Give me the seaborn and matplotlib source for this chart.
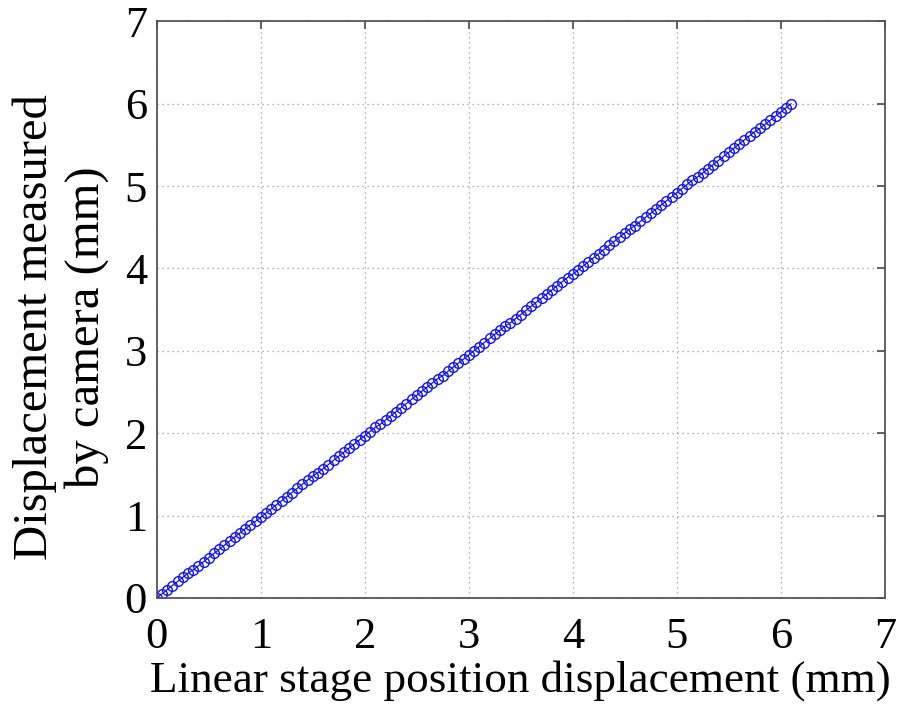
import matplotlib
matplotlib.use("Agg")
import matplotlib.pyplot as plt
import seaborn as sns
import pandas as pd

stage_mm = [0.00, 0.05, 0.10, 0.15, 0.20, 0.25, 0.30, 0.35, 0.40, 0.45,
            0.50, 0.55, 0.60, 0.65, 0.70, 0.75, 0.80, 0.85, 0.90, 0.95,
            1.00, 1.05, 1.10, 1.15, 1.20, 1.25, 1.30, 1.35, 1.40, 1.45,
            1.50, 1.55, 1.60, 1.65, 1.70, 1.75, 1.80, 1.85, 1.90, 1.95,
            2.00, 2.05, 2.10, 2.15, 2.20, 2.25, 2.30, 2.35, 2.40, 2.45,
            2.50, 2.55, 2.60, 2.65, 2.70, 2.75, 2.80, 2.85, 2.90, 2.95,
            3.00, 3.05, 3.10, 3.15, 3.20, 3.25, 3.30, 3.35, 3.40, 3.45,
            3.50, 3.55, 3.60, 3.65, 3.70, 3.75, 3.80, 3.85, 3.90, 3.95,
            4.00, 4.05, 4.10, 4.15, 4.20, 4.25, 4.30, 4.35, 4.40, 4.45,
            4.50, 4.55, 4.60, 4.65, 4.70, 4.75, 4.80, 4.85, 4.90, 4.95,
            5.00, 5.05, 5.10, 5.15, 5.20, 5.25, 5.30, 5.35, 5.40, 5.45,
            5.50, 5.55, 5.60, 5.65, 5.70, 5.75, 5.80, 5.85, 5.90, 5.95,
            6.00, 6.05, 6.10]
camera_mm = [0.00, 0.05, 0.10, 0.15, 0.20, 0.25, 0.30, 0.34, 0.39, 0.44,
             0.49, 0.54, 0.59, 0.64, 0.69, 0.74, 0.79, 0.84, 0.89, 0.93,
             0.98, 1.03, 1.08, 1.13, 1.18, 1.23, 1.28, 1.33, 1.38, 1.43,
             1.48, 1.52, 1.57, 1.62, 1.67, 1.72, 1.77, 1.82, 1.87, 1.92,
             1.97, 2.02, 2.07, 2.11, 2.16, 2.21, 2.26, 2.31, 2.36, 2.41,
             2.46, 2.51, 2.56, 2.61, 2.66, 2.70, 2.75, 2.80, 2.85, 2.90,
             2.95, 3.00, 3.05, 3.10, 3.15, 3.20, 3.25, 3.30, 3.34, 3.39,
             3.44, 3.49, 3.54, 3.59, 3.64, 3.69, 3.74, 3.79, 3.84, 3.89,
             3.93, 3.98, 4.03, 4.08, 4.13, 4.18, 4.23, 4.28, 4.33, 4.38,
             4.43, 4.48, 4.52, 4.57, 4.62, 4.67, 4.72, 4.77, 4.82, 4.87,
             4.92, 4.97, 5.02, 5.07, 5.11, 5.16, 5.21, 5.26, 5.31, 5.36,
             5.41, 5.46, 5.51, 5.56, 5.61, 5.66, 5.70, 5.75, 5.80, 5.85,
             5.90, 5.95, 6.00]
ticks = [0, 1, 2, 3, 4, 5, 6, 7]

df = pd.DataFrame({"x": stage_mm, "y": camera_mm})

sns.set_style("white")
plt.rcParams["font.family"] = ["Liberation Serif", "DejaVu Serif"]

fig = plt.figure(figsize=(9.01, 7.11), dpi=100)
ax = fig.add_axes([0.174, 0.159, 0.808, 0.811])

sns.lineplot(data=df, x="x", y="y", ax=ax, color="#0000ff", linewidth=0.8,
             marker="o", markersize=7, markerfacecolor="none",
             markeredgecolor="#1010ff", markeredgewidth=1.0)

ax.set_xlim(0, 7)
ax.set_ylim(0, 7)
ax.set_xticks(ticks)
ax.set_yticks(ticks)
ax.set_xticklabels([str(t) for t in ticks])
ax.set_yticklabels([str(t) for t in ticks])
ax.grid(True, linestyle=(0, (1, 3)), color="#999999", linewidth=0.9)
for s in ax.spines.values():
    s.set_color("#555555")
    s.set_linewidth(1.3)
    s.set_visible(True)
ax.tick_params(direction="in", length=6, width=1.3, color="#555555",
               labelcolor="black", labelsize=32, top=True, right=True)
ax.tick_params(axis="x", pad=14)
ax.tick_params(axis="y", pad=7)
ax.set_xlabel("Linear stage position displacement (mm)", fontsize=32.5,
              labelpad=2, color="black")
ax.set_ylabel("Displacement measured\nby camera (mm)", fontsize=35,
              linespacing=1.2, color="black")
ax.yaxis.set_label_coords(-0.066, 0.47)

fig.savefig("out.png", dpi=100)
